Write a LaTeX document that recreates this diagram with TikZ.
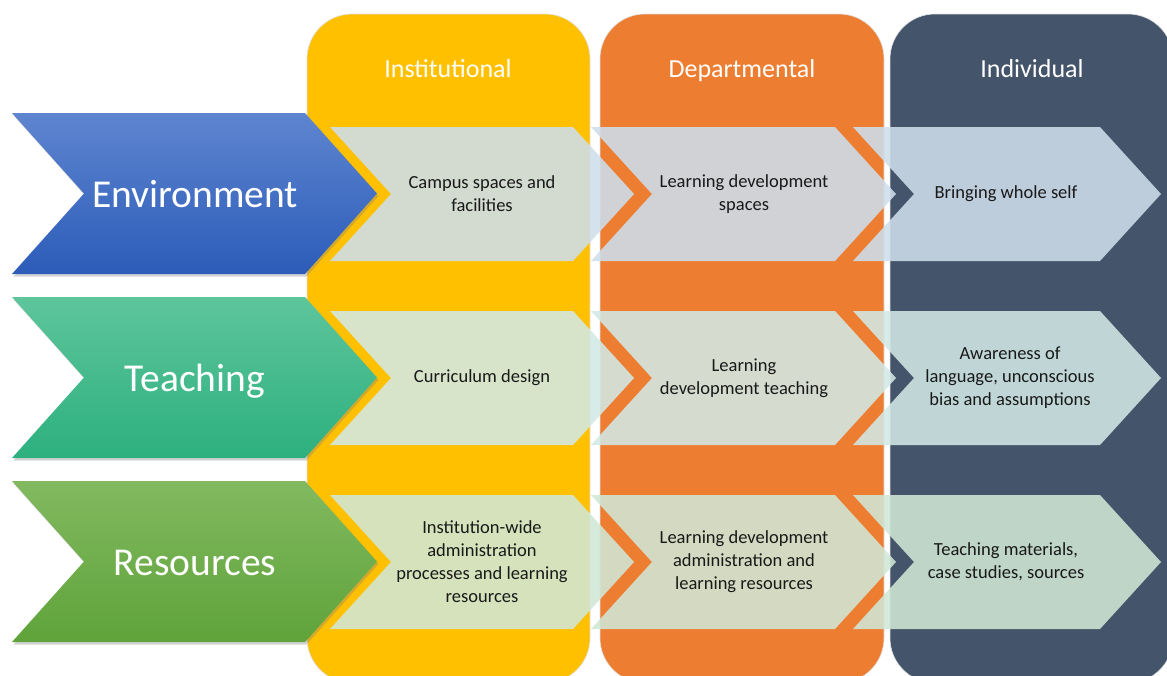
\documentclass[tikz,border=0pt]{standalone}
\usepackage{fontspec}
\setmainfont{Carlito}
\usepackage{tikz}
\usetikzlibrary{shadows}
\definecolor{colYellow}{HTML}{FFC000}
\definecolor{colOrange}{HTML}{ED7D31}
\definecolor{colSlate}{HTML}{44546A}
\definecolor{envTop}{HTML}{5E85CF}
\definecolor{envBot}{HTML}{2C5CB9}
\definecolor{teachTop}{HTML}{5EC59B}
\definecolor{teachBot}{HTML}{2DB07F}
\definecolor{resTop}{HTML}{82B960}
\definecolor{resBot}{HTML}{5FA33A}
\definecolor{rowEnv}{HTML}{CEDEEC}
\definecolor{rowTeach}{HTML}{D2E9E6}
\definecolor{rowRes}{HTML}{D0E7D6}

% chevron band: left x, top y, top width, height, point depth, style
\newcommand{\chevron}[6]{%
  \path[#6] (#1,#2) -- ++(#3,0) -- ++(#5,#4/2) -- ++(-#5,#4/2)
    -- ++(-#3,0) -- ++(#5,-#4/2) -- cycle;}

\begin{document}
\begin{tikzpicture}[
        x=1pt, y=-1pt,
        column/.style={draw=black!12, line width=0.6pt, rounded corners=45pt},
        head/.style={anchor=base, text=white, font=\fontsize{26}{30}\selectfont},
        big/.style={drop shadow={shadow xshift=1.5pt, shadow yshift=-2.5pt, opacity=.35}},
        biglabel/.style={anchor=base, text=white, font=\fontsize{39.5}{44}\selectfont},
        stage/.style={fill opacity=.88},
        stagetext/.style={align=center, text=black!90, font=\fontsize{18.5}{23}\selectfont},
    ]
    \useasboundingbox (0,0) rectangle (1167,675);

    % level columns
    \begin{scope}
        \clip (0,0) rectangle (1167,675);
        \draw[column, fill=colYellow] (307,14) rectangle (590,683);
        \draw[column, fill=colOrange] (600,14) rectangle (884,683);
        \draw[column, fill=colSlate]  (890,14) rectangle (1173,683);
    \end{scope}
    \node[head] (inst) at (448,77) {Institutional};
    \node[head] (dept) at (742,77) {Departmental};
    \node[head] (indiv) at (1032,77) {Individual};

    % row headers
    \chevron{12}{113}{293}{161}{72}{big, top color=envTop, bottom color=envBot}
    \chevron{12}{297}{293}{161}{72}{big, top color=teachTop, bottom color=teachBot}
    \chevron{12}{481}{293}{161}{72}{big, top color=resTop, bottom color=resBot}
    \node[biglabel] (env) at (195,207) {Environment};
    \node[biglabel] (teach) at (195,391) {Teaching};
    \node[biglabel] (res) at (195,575) {Resources};

    % stages
    \chevron{330}{127}{243}{134}{61}{stage, fill=rowEnv}
    \chevron{591}{127}{244}{134}{61}{stage, fill=rowEnv}
    \chevron{853}{127}{247}{134}{61}{stage, fill=rowEnv}
    \chevron{330}{311}{243}{134}{61}{stage, fill=rowTeach}
    \chevron{591}{311}{244}{134}{61}{stage, fill=rowTeach}
    \chevron{853}{311}{247}{134}{61}{stage, fill=rowTeach}
    \chevron{330}{495}{243}{134}{61}{stage, fill=rowRes}
    \chevron{591}{495}{244}{134}{61}{stage, fill=rowRes}
    \chevron{853}{495}{247}{134}{61}{stage, fill=rowRes}

    \node[stagetext] (envA) at (482,194) {Campus spaces and\\facilities};
    \node[stagetext] (envB) at (744,194) {Learning development\\spaces};
    \node[stagetext] (envC) at (1006,194) {Bringing whole self};
    \node[stagetext] (teachA) at (482,378) {Curriculum design};
    \node[stagetext] (teachB) at (744,378) {Learning\\development teaching};
    \node[stagetext] (teachC) at (1010,378) {Awareness of\\language, unconscious\\bias and assumptions};
    \node[stagetext] (resA) at (482,562) {Institution-wide\\administration\\processes and learning\\resources};
    \node[stagetext] (resB) at (744,562) {Learning development\\administration and\\learning resources};
    \node[stagetext] (resC) at (1006,562) {Teaching materials,\\case studies, sources};
\end{tikzpicture}
\end{document}
